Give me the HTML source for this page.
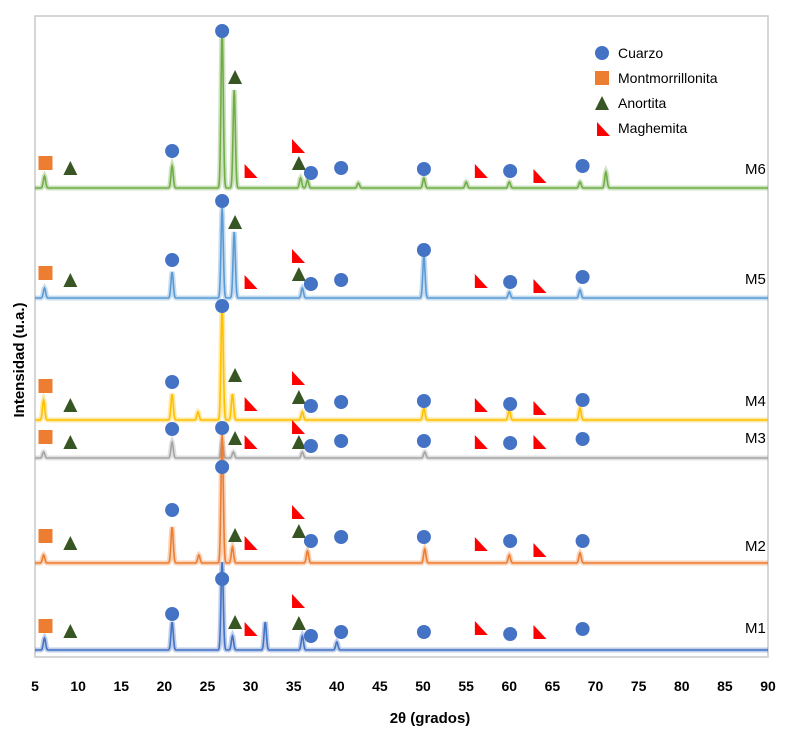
<!DOCTYPE html>
<html><head><meta charset="utf-8"><style>
body{margin:0;background:#fff;}
svg{display:block;font-family:"Liberation Sans",sans-serif;}
</style></head><body>
<svg id="chart" width="800" height="735">
<rect x="35" y="16" width="733" height="641" fill="none" stroke="#c8c8c8" stroke-width="1.5"/>
<g id="series"></g><g id="markers"></g><g id="ticks"></g>
<text x="430" y="723" text-anchor="middle" font-size="15" font-weight="bold">2θ (grados)</text>
<text transform="translate(24,360) rotate(-90)" text-anchor="middle" font-size="15" font-weight="bold">Intensidad (u.a.)</text>
<g>
<circle cx="602" cy="53" r="7" fill="#4472C4"/>
<text x="618" y="58" font-size="14">Cuarzo</text>
<rect x="595" y="71" width="14" height="14" fill="#ED7D31"/>
<text x="618" y="83" font-size="14">Montmorrillonita</text>
<polygon points="595,110 602,96 609,110" fill="#375623"/>
<text x="618" y="108" font-size="14">Anortita</text>
<polygon points="597,122 597,136 610,136" fill="#FF0000"/>
<text x="618" y="133" font-size="14">Maghemita</text>
</g>
</svg>
<script>
const xTicks=[5,10,15,20,25,30,35,40,45,50,55,60,65,70,75,80,85,90];
const seriesNames=["M6","M5","M4","M3","M2","M1"];
const seriesColors=["#70AD47","#5B9BD5","#FFC000","#A5A5A5","#ED7D31","#4472C4"];
const baselines=[188,298,420,458,563,650];
const labelY=[168,278,400,437,545,627];
const peakPos=[
 [6.1,20.9,26.7,28.1,35.8,36.6,42.5,50.1,55,60,68.2,71.2],
 [6.1,20.9,26.7,28.1,36,50.1,60,68.2],
 [6,20.9,23.9,26.7,27.9,36,50.1,60,68.2],
 [6,20.9,26.7,28,36,50.2],
 [6,20.9,24,26.7,27.9,36.6,50.2,60,68.2],
 [6.1,20.9,26.7,27.9,31.7,36,40]];
const peakHeights=[
 [12,22,158,98,10,8,5,10,6,6,6,16],
 [10,26,90,66,10,42,6,8],
 [20,26,8,114,26,8,12,10,12],
 [6,16,16,6,6,6],
 [8,36,8,128,16,12,14,8,10],
 [12,28,88,14,28,14,8]];
const markerTypes=["sq","tri","c","c","tri","mag","mag","tri","c","c","c","mag","c","mag","c"];
const markerX=[6.1,9.1,20.9,26.7,28.2,30,35.5,35.6,37,40.5,50.1,56.7,60.1,63.5,68.5];
const markerY=[
 [163,168,151,31,77,171,146,163,173,168,169,171,171,176,166],
 [273,280,260,201,222,282,256,274,284,280,250,281,282,286,277],
 [386,405,382,306,375,404,378,397,406,402,401,405,404,408,400],
 [437,442,429,428,438,442,427,442,446,441,441,442,443,442,439],
 [536,543,510,467,535,543,512,531,541,537,537,544,541,550,541],
 [626,631,614,579,622,629,601,623,636,632,632,628,634,632,629]];
const X=v=>35+(v-5)*(733/85);
const NS="http://www.w3.org/2000/svg";
const gS=document.getElementById("series"),gM=document.getElementById("markers"),gT=document.getElementById("ticks"),svg=document.getElementById("chart");
seriesNames.forEach((n,i)=>{
 let d="";
 for(let v=5;v<=90.001;v+=0.05){
  let h=0;
  peakPos[i].forEach((p,k)=>{const s=0.13;h+=peakHeights[i][k]*Math.exp(-((v-p)**2)/(2*s*s));});
  d+=(d?"L":"M")+X(v).toFixed(2)+","+(baselines[i]-h).toFixed(2);
 }
 const band=document.createElementNS(NS,"path");
 band.setAttribute("d",d);band.setAttribute("fill","none");band.setAttribute("stroke",seriesColors[i]);band.setAttribute("stroke-width","5");band.setAttribute("stroke-opacity","0.35");
 
 
 gS.appendChild(band);
 const path=document.createElementNS(NS,"path");
 path.setAttribute("d",d);path.setAttribute("fill","none");path.setAttribute("stroke",seriesColors[i]);path.setAttribute("stroke-width","1.6");
 
 
 gS.appendChild(path);
 const t=document.createElementNS(NS,"text");
 t.setAttribute("x",745);t.setAttribute("y",labelY[i]+6);t.setAttribute("font-size","15");t.textContent=n;
 
 
 svg.appendChild(t);
 markerTypes.forEach((ty,k)=>{
  const x=X(markerX[k]),y=markerY[i][k];let el;
  if(ty==="c"){el=document.createElementNS(NS,"circle");el.setAttribute("cx",x);el.setAttribute("cy",y);el.setAttribute("r",7);el.setAttribute("fill","#4472C4");}
  else if(ty==="sq"){el=document.createElementNS(NS,"rect");el.setAttribute("x",x-6);el.setAttribute("y",y-7);el.setAttribute("width",14);el.setAttribute("height",14);el.setAttribute("fill","#ED7D31");}
  else if(ty==="tri"){el=document.createElementNS(NS,"polygon");el.setAttribute("points",`${x-7},${y+7} ${x},${y-7} ${x+7},${y+7}`);el.setAttribute("fill","#375623");}
  else {el=document.createElementNS(NS,"polygon");el.setAttribute("points",`${x-6},${y-7} ${x-6},${y+7} ${x+7},${y+7}`);el.setAttribute("fill","#FF0000");}
  
  
  gM.appendChild(el);
 });
});
xTicks.forEach(v=>{
 const t=document.createElementNS(NS,"text");
 t.setAttribute("x",X(v));t.setAttribute("y",691);t.setAttribute("text-anchor","middle");t.setAttribute("font-size","14");t.setAttribute("font-weight","bold");t.textContent=v;
 
 
 gT.appendChild(t);
});
</script>
</body></html>
